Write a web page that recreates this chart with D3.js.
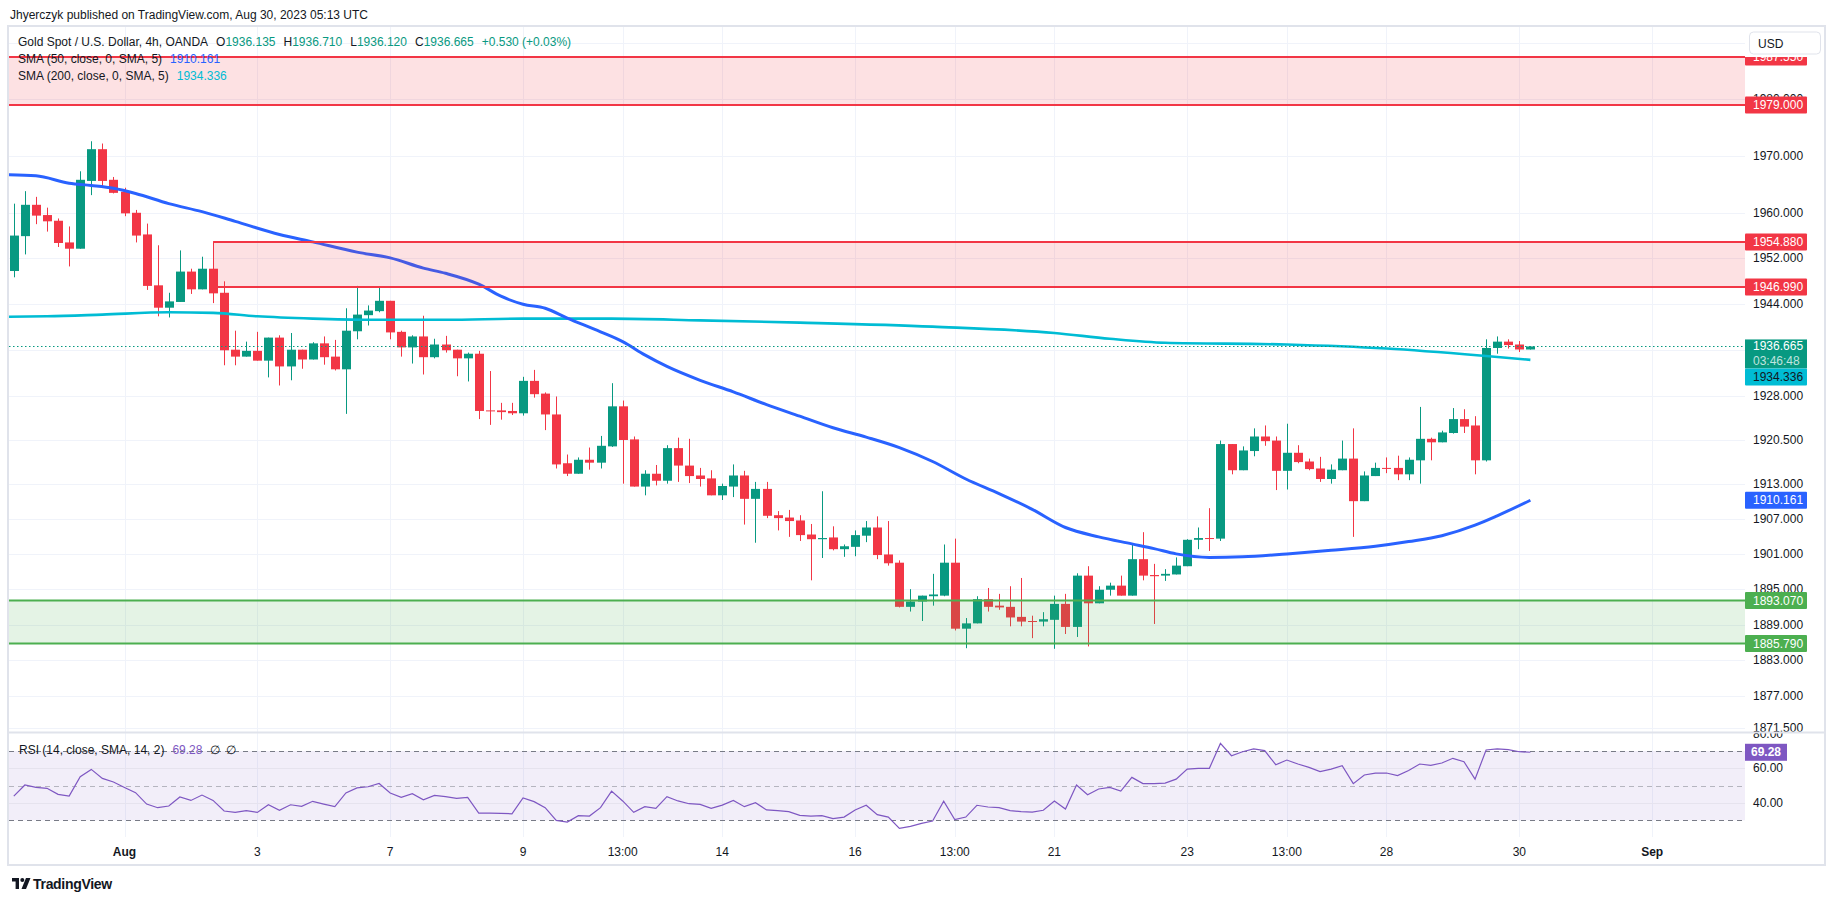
<!DOCTYPE html>
<html><head><meta charset="utf-8">
<script src="https://cdn.jsdelivr.net/npm/d3@7"></script>
<style>
html,body{margin:0;padding:0;background:#fff;}
svg{display:block;}
</style></head><body>
<svg id="chart" width="1835" height="901"></svg>
<script>
// ---------------- DATA ----------------
const opens = [1949.8,1955.9,1961.4,1959.6,1958.6,1954.8,1953.7,1965.6,1971.2,1965.8,
1963.7,1960.0,1956.2,1947.3,1943.4,1944.4,1949.7,1946.6,1950.2,1946.0,
1936.1,1934.9,1935.9,1934.2,1938.2,1933.2,1936.1,1934.4,1937.2,1934.9,
1932.7,1939.3,1942.1,1942.8,1944.6,1939.2,1936.5,1938.4,1934.8,1937.0,
1936.1,1934.6,1935.4,1925.6,1925.6,1925.5,1925.1,1930.7,1928.5,1924.9,
1916.5,1914.7,1917.1,1916.6,1919.4,1926.3,1920.6,1912.5,1914.7,1913.5,
1919.1,1916.1,1914.4,1913.9,1911.0,1912.5,1914.4,1910.4,1912.1,1907.6,
1907.2,1906.7,1904.3,1903.5,1903.8,1901.8,1902.2,1904.1,1905.5,1900.9,
1899.5,1892.0,1892.9,1893.8,1893.9,1899.5,1888.3,1889.2,1893.3,1892.2,
1892.0,1890.3,1889.6,1889.5,1889.8,1892.5,1888.6,1897.3,1892.6,1894.9,
1895.6,1893.9,1900.1,1897.4,1897.3,1897.5,1898.9,1903.4,1903.7,1903.6,
1919.8,1915.3,1918.6,1921.1,1920.4,1915.2,1918.3,1916.8,1915.6,1913.8,
1915.3,1917.3,1910.0,1914.3,1915.7,1915.7,1914.6,1917.0,1920.7,1920.1,
1921.7,1924.1,1923.0,1917.0,1936.4,1937.5,1937.0,1936.135];
const highs = [1961.6,1963.8,1962.8,1960.9,1959.0,1957.6,1967.3,1972.6,1972.2,1966.3,
1964.4,1960.5,1958.1,1954.3,1946.0,1953.4,1950.2,1952.3,1954.88,1948.0,
1939.4,1937.5,1939.2,1938.2,1938.6,1939.0,1936.1,1937.4,1938.4,1937.8,
1943.3,1947.2,1943.8,1947.0,1944.6,1939.4,1938.6,1942.0,1938.0,1938.5,
1936.1,1935.6,1935.9,1932.4,1926.9,1926.9,1931.4,1932.6,1928.7,1928.0,
1918.0,1917.5,1919.2,1921.2,1930.3,1927.3,1921.1,1915.3,1916.2,1919.6,
1920.9,1920.7,1915.7,1915.3,1913.0,1916.3,1915.2,1913.3,1913.3,1908.3,
1908.5,1907.6,1906.1,1911.7,1905.7,1902.6,1905.0,1906.6,1907.4,1906.6,
1899.9,1895.0,1893.9,1897.6,1902.6,1903.6,1890.1,1893.8,1895.2,1894.2,
1895.5,1896.9,1890.5,1891.1,1893.9,1894.2,1897.7,1898.9,1895.5,1896.1,
1897.3,1902.6,1904.7,1899.3,1898.4,1900.4,1903.5,1905.5,1908.8,1920.4,
1919.8,1919.4,1922.5,1923.0,1921.1,1923.3,1919.6,1917.3,1917.6,1916.3,
1920.4,1922.5,1915.1,1916.6,1917.5,1917.8,1917.5,1926.2,1920.9,1922.1,
1926.0,1925.8,1924.6,1937.9,1938.4,1937.9,1937.6,1936.71];
const lows = [1948.7,1952.7,1958.0,1956.7,1954.0,1950.6,1953.7,1963.1,1964.7,1963.4,
1959.4,1954.8,1946.5,1941.9,1941.7,1944.4,1945.8,1946.6,1944.2,1933.4,
1933.4,1934.9,1934.2,1931.3,1929.9,1930.8,1932.8,1934.4,1933.5,1932.5,
1925.0,1937.9,1940.3,1942.6,1937.9,1934.9,1933.7,1931.8,1934.6,1935.6,
1931.5,1930.6,1924.1,1923.1,1924.0,1924.8,1924.7,1927.8,1922.2,1915.6,
1914.3,1914.7,1915.4,1915.6,1919.3,1913.0,1912.5,1911.0,1912.7,1913.0,
1913.3,1913.1,1912.5,1911.0,1910.2,1910.7,1906.0,1902.9,1907.1,1905.0,
1903.9,1903.2,1896.5,1900.3,1901.6,1900.5,1900.6,1903.0,1900.1,1899.0,
1891.9,1891.2,1889.6,1892.2,1893.8,1888.0,1885.0,1889.2,1891.2,1891.5,
1888.7,1888.7,1886.7,1888.7,1884.9,1887.4,1886.9,1885.3,1892.6,1893.9,
1893.9,1893.9,1896.5,1889.1,1896.4,1897.5,1898.9,1901.8,1901.5,1903.2,
1914.6,1915.3,1917.7,1919.5,1911.9,1912.0,1916.5,1915.3,1913.3,1913.0,
1915.3,1903.9,1910.0,1914.3,1914.8,1913.6,1913.6,1913.0,1917.0,1920.1,
1921.6,1921.7,1914.6,1916.8,1935.4,1936.3,1935.7,1936.12];
const closes = [1956.0,1961.4,1959.5,1958.5,1954.7,1953.7,1965.8,1971.2,1965.6,1963.5,
1959.9,1956.0,1947.2,1943.4,1944.5,1949.7,1946.6,1950.2,1945.9,1936.0,
1934.9,1935.9,1934.2,1938.2,1933.2,1936.1,1934.4,1937.2,1934.8,1932.7,
1939.4,1942.2,1942.9,1944.6,1939.1,1936.5,1938.4,1934.8,1937.0,1936.0,
1934.6,1935.4,1925.5,1925.5,1925.3,1925.1,1930.7,1928.4,1924.9,1916.3,
1914.7,1917.1,1916.6,1919.5,1926.3,1920.5,1912.5,1914.7,1913.5,1919.1,
1916.1,1914.3,1913.8,1911.0,1912.6,1914.4,1910.4,1912.1,1907.5,1907.1,
1906.6,1904.2,1903.5,1903.7,1901.8,1902.3,1904.2,1905.5,1900.8,1899.4,
1892.0,1892.9,1893.9,1894.1,1899.5,1888.3,1889.2,1893.3,1892.0,1891.9,
1890.2,1889.5,1889.5,1889.9,1892.5,1888.6,1897.3,1892.6,1894.9,1895.6,
1893.9,1900.1,1897.3,1897.2,1897.6,1899.0,1903.4,1903.7,1903.6,1919.8,
1915.3,1918.7,1921.1,1920.3,1915.2,1918.3,1916.7,1915.5,1913.8,1915.4,
1917.3,1910.0,1914.4,1915.7,1915.6,1914.6,1917.1,1920.7,1920.1,1921.8,
1924.1,1922.8,1917.0,1936.4,1937.5,1936.9,1936.135,1936.665];

const sma50Idx = [0,3,6,8,10,12,15,18,21,25,28,32,35,38,40,43,45,47,49,51,54,56,58,60,63,66,69,72,75,78,81,84,87,90,93,96,99,102,104,106,109,112,116,120,124,127,130,133,135,138];
const sma50Val = [1966.7,1966.5,1965.2,1964.8,1964.3,1963.4,1961.6,1960.2,1958.5,1956.2,1954.9,1953.1,1952.1,1950.3,1949.4,1947.5,1945.4,1944.0,1943.3,1941.6,1939.2,1937.5,1935.2,1933.2,1930.8,1928.8,1926.6,1924.6,1922.6,1921.0,1919.2,1916.8,1913.8,1911.3,1908.6,1905.5,1903.9,1902.7,1901.9,1901.0,1900.4,1900.5,1901.0,1901.6,1902.3,1903.1,1904.1,1905.9,1907.5,1910.161];
const sma200Idx = [0,4,9,15,19,23,28,33,40,47,55,63,72,84,95,100,105,116,125,134,138];
const sma200Val = [1941.8,1941.9,1942.2,1942.6,1942.5,1941.9,1941.5,1941.3,1941.3,1941.5,1941.5,1941.2,1940.8,1940.1,1939.0,1938.0,1937.3,1937.0,1936.3,1935.0,1934.336];

const rsiVals = [44.0,50.4,49.0,48.5,45.0,44.0,55.2,59.4,54.2,52.1,49.0,46.0,39.4,37.3,38.3,43.5,41.5,44.6,41.5,35.4,
34.6,35.6,34.6,39.0,35.8,39.0,38.1,41.0,39.4,37.9,45.8,48.7,49.4,51.3,45.8,43.3,45.4,41.9,44.4,43.7,
42.7,43.3,34.2,34.2,34.0,33.8,42.9,40.8,37.3,30.0,29.0,32.7,32.5,37.3,46.9,41.2,34.6,37.9,36.9,43.7,
41.2,39.6,39.2,36.9,38.8,41.5,37.9,40.2,36.0,35.6,35.0,32.9,32.5,32.7,31.0,31.9,36.0,38.7,33.3,31.9,
25.4,26.5,28.3,29.6,41.0,30.4,31.9,38.7,37.7,37.3,35.6,35.0,34.8,35.8,41.2,36.5,50.4,44.8,48.1,49.0,
46.9,54.8,51.2,51.2,51.5,53.8,59.6,60.0,60.0,74.4,67.3,69.6,71.2,70.2,62.1,64.8,62.5,60.6,58.1,59.6,
61.5,51.2,56.2,57.3,57.3,55.8,58.8,62.5,61.7,63.1,65.8,63.8,53.8,70.6,71.2,70.8,69.6,69.28];

const timeLabels = ["Aug","3","7","9","13:00","14","16","13:00","21","23","13:00","28","30","Sep"];
const timeIdx = [11,23,35,47,56,65,77,86,95,107,116,125,137,149];
const monthLabels = ["Aug","Sep"];

const priceTicks = [1990,1980,1970,1960,1952,1944,1936,1928,1920.5,1913,1907,1901,1895,1889,1883,1877,1871.5];
const rsiTicks = [80,60,40];
const rsiLevels = [70,50,30];

const zoneTop = [1979.000, 1987.550];
const zoneMid = [1946.990, 1954.880];
const zoneMidStart = 19;
const zoneLow = [1885.790, 1893.070];

const lastPrice = 1936.665, lastCountdown = "03:46:48";
const sma50Last = 1910.161, sma200Last = 1934.336, rsiLast = 69.28;

const headerTitle = "Jhyerczyk published on TradingView.com, Aug 30, 2023 05:13 UTC";
const symbolTitle = "Gold Spot / U.S. Dollar, 4h, OANDA";
const ohlcLabels = ["O","H","L","C"];
const ohlcValues = ["1936.135","1936.710","1936.120","1936.665"];
const changeText = "+0.530 (+0.03%)";
const sma50Title = "SMA (50, close, 0, SMA, 5)";
const sma200Title = "SMA (200, close, 0, SMA, 5)";
const rsiTitle = "RSI (14, close, SMA, 14, 2)";

// ---------------- LAYOUT ----------------
const FONT = '"Liberation Sans", Arial, sans-serif';
const L = 9, R = 1745, T = 27, B = 732, RT = 733, RB = 837, AXR = 1825;
const GREEN = "#089981", RED = "#f23645", TXT = "#131722", GRID = "#f0f3fa";
const BLUE = "#2962ff", CYAN = "#00bcd4", PURPLE = "#7e57c2", ZRED = "#f23645", ZGREEN = "#4caf50";
const AX_TOP_COVER = 57; // white area around the currency button

const svg = d3.select("#chart").style("font-family", FONT);
const x = d3.scaleLinear().domain([1, 138]).range([13.8, 13.8 + 137 * 11.07]);
const y = d3.scaleLog().domain([1870.9, 1992.9]).range([B, T]);
const yr = d3.scaleLinear().domain([20.4, 80.4]).range([RB, RT]);
const fmt3 = d3.format(".3f"), fmt2 = d3.format(".2f");
const crisp = v => Math.round(v) + 0.5;

const defs = svg.append("defs");
defs.append("clipPath").attr("id", "cpMain").append("rect").attr("x", L).attr("y", T).attr("width", R - L).attr("height", B - T);
defs.append("clipPath").attr("id", "cpRsi").append("rect").attr("x", L).attr("y", RT).attr("width", R - L).attr("height", RB - RT);
defs.append("clipPath").attr("id", "cpRsiAx").append("rect").attr("x", R).attr("y", RT).attr("width", AXR - R).attr("height", RB - RT);
defs.append("clipPath").attr("id", "cpPriceAx").append("rect").attr("x", R).attr("y", AX_TOP_COVER).attr("width", AXR - R).attr("height", B - AX_TOP_COVER + 1);

// vertical grid
const vg = svg.append("g");
timeIdx.forEach(i => {
  const xx = crisp(x(i));
  if (xx < R) vg.append("line").attr("x1", xx).attr("x2", xx).attr("y1", T).attr("y2", RB).attr("stroke", GRID).attr("stroke-width", 1);
});
// horizontal grid main
const main = svg.append("g").attr("clip-path", "url(#cpMain)");
priceTicks.forEach(v => {
  main.append("line").attr("x1", L).attr("x2", R).attr("y1", crisp(y(v))).attr("y2", crisp(y(v))).attr("stroke", GRID);
});

// candles
const candles = main.append("g");
opens.forEach((o, k) => {
  const i = k + 1, c = closes[k], h = highs[k], l = lows[k];
  const col = c >= o ? GREEN : RED;
  const cx = Math.round(x(i));
  candles.append("line").attr("x1", cx + 0.5).attr("x2", cx + 0.5).attr("y1", y(h)).attr("y2", y(l)).attr("stroke", col).attr("stroke-width", 1);
  const yt = y(Math.max(o, c)), yb = y(Math.min(o, c));
  candles.append("rect").attr("x", cx - 4).attr("width", 9).attr("y", yt).attr("height", Math.max(1, yb - yt)).attr("fill", col);
});

// SMA lines
const lineGen = d3.line().x(d => x(d[0])).y(d => y(d[1])).curve(d3.curveMonotoneX);
main.append("path").datum(sma200Idx.map((i, k) => [i, sma200Val[k]])).attr("d", lineGen)
  .attr("fill", "none").attr("stroke", CYAN).attr("stroke-width", 2.6);
main.append("path").datum(sma50Idx.map((i, k) => [i, sma50Val[k]])).attr("d", lineGen)
  .attr("fill", "none").attr("stroke", BLUE).attr("stroke-width", 3);

// zones
function zone(lo, hi, xStart, lineCol, fillCol) {
  main.append("rect").attr("x", xStart).attr("width", R - xStart).attr("y", y(hi)).attr("height", y(lo) - y(hi)).attr("fill", fillCol);
  [lo, hi].forEach(v => main.append("line").attr("x1", xStart).attr("x2", R).attr("y1", y(v)).attr("y2", y(v)).attr("stroke", lineCol).attr("stroke-width", 2));
}
zone(zoneTop[0], zoneTop[1], L, ZRED, "rgba(242,54,69,0.15)");
zone(zoneMid[0], zoneMid[1], x(zoneMidStart), ZRED, "rgba(242,54,69,0.15)");
zone(zoneLow[0], zoneLow[1], L, ZGREEN, "rgba(76,175,80,0.15)");

// last price dotted line
main.append("line").attr("x1", L).attr("x2", R).attr("y1", crisp(y(lastPrice))).attr("y2", crisp(y(lastPrice)))
  .attr("stroke", GREEN).attr("stroke-dasharray", "1.5,2.5").attr("stroke-width", 1);

// ---------------- RSI PANE ----------------
const rsiG = svg.append("g").attr("clip-path", "url(#cpRsi)");
rsiG.append("rect").attr("x", L).attr("width", R - L).attr("y", yr(70)).attr("height", yr(30) - yr(70)).attr("fill", "rgba(126,87,194,0.1)");
[60, 40].forEach(v => rsiG.append("line").attr("x1", L).attr("x2", R).attr("y1", crisp(yr(v))).attr("y2", crisp(yr(v))).attr("stroke", "#e6e3ee"));
rsiLevels.forEach(v => rsiG.append("line").attr("x1", L).attr("x2", R).attr("y1", crisp(yr(v))).attr("y2", crisp(yr(v)))
  .attr("stroke", "#787b86").attr("stroke-opacity", v === 50 ? 0.5 : 1).attr("stroke-dasharray", "5,4"));
rsiG.append("path").datum(rsiVals.map((v, k) => [k + 1, v]))
  .attr("d", d3.line().x(d => x(d[0])).y(d => yr(d[1])))
  .attr("fill", "none").attr("stroke", PURPLE).attr("stroke-width", 1.2);

// RSI legend
const rl = svg.append("text").attr("x", 19).attr("y", 750).attr("dominant-baseline", "central").attr("font-size", 12).attr("fill", TXT);
rl.append("tspan").text(rsiTitle);
rl.append("tspan").attr("dx", 8).attr("fill", PURPLE).text(fmt2(rsiLast));
rl.append("tspan").attr("dx", 8).text("∅");
rl.append("tspan").attr("dx", 6).text("∅");

// RSI axis
const rax = svg.append("g").attr("clip-path", "url(#cpRsiAx)");
rsiTicks.forEach(v => rax.append("text").attr("x", 1753).attr("y", yr(v)).attr("dominant-baseline", "central")
  .attr("font-size", 12).attr("fill", TXT).text(fmt2(v)));
rax.append("rect").attr("x", R).attr("y", yr(rsiLast) - 8.5).attr("width", 42).attr("height", 17).attr("fill", PURPLE);
rax.append("text").attr("x", 1751).attr("y", yr(rsiLast)).attr("dominant-baseline", "central").attr("font-size", 12)
  .attr("fill", "#fff").attr("font-weight", 600).text(fmt2(rsiLast));

// ---------------- PRICE AXIS ----------------
const pax = svg.append("g").attr("clip-path", "url(#cpPriceAx)");
const lpY = y(lastPrice);
const lpTop = lpY - 7, lpBottom = lpY + 22;
priceTicks.forEach(v => {
  const ty = y(v);
  if (ty > lpTop + 3 && ty < lpBottom - 3) return; // fully covered by last-price label
  pax.append("text").attr("x", 1753).attr("y", ty).attr("dominant-baseline", "central")
    .attr("font-size", 12).attr("fill", TXT).text(fmt3(v));
});

function box(v, fill, txtCol, yc) {
  const cy = yc === undefined ? y(v) : yc;
  pax.append("rect").attr("x", R).attr("y", cy - 8.5).attr("width", 62).attr("height", 17).attr("fill", fill).attr("rx", 1);
  pax.append("text").attr("x", 1753).attr("y", cy).attr("dominant-baseline", "central").attr("font-size", 12)
    .attr("fill", txtCol).text(fmt3(v));
  return cy + 8.5;
}
box(zoneTop[1], ZRED, "#fff");
box(zoneTop[0], ZRED, "#fff");
box(zoneMid[1], ZRED, "#fff");
box(zoneMid[0], ZRED, "#fff");
// last price (two lines)
pax.append("rect").attr("x", R).attr("y", lpTop).attr("width", 62).attr("height", lpBottom - lpTop).attr("fill", GREEN);
pax.append("text").attr("x", 1753).attr("y", lpY).attr("dominant-baseline", "central").attr("font-size", 12).attr("fill", "#fff").text(fmt3(lastPrice));
pax.append("text").attr("x", 1753).attr("y", lpY + 14.5).attr("dominant-baseline", "central").attr("font-size", 12).attr("fill", "rgba(255,255,255,0.75)").text(lastCountdown);
box(sma200Last, CYAN, TXT, Math.max(y(sma200Last), lpBottom + 8.5));
box(sma50Last, BLUE, "#fff");
box(zoneLow[1], ZGREEN, "#fff");
box(zoneLow[0], ZGREEN, "#fff");

// USD box
svg.append("rect").attr("x", 1749.5).attr("y", 32).attr("width", 71).attr("height", 22).attr("rx", 4).attr("fill", "#fff").attr("stroke", "#e0e3eb");
svg.append("text").attr("x", 1758).attr("y", 43.5).attr("dominant-baseline", "central").attr("font-size", 12).attr("fill", TXT).text("USD");

// ---------------- TIME AXIS ----------------
timeIdx.forEach((i, k) => {
  if (x(i) < R) svg.append("text").attr("x", x(i)).attr("y", 852).attr("text-anchor", "middle").attr("dominant-baseline", "central")
    .attr("font-size", 12).attr("fill", TXT).attr("font-weight", monthLabels.includes(timeLabels[k]) ? 700 : 400).text(timeLabels[k]);
});

// pane separator and frame
svg.append("line").attr("x1", L - 1).attr("x2", AXR).attr("y1", 732.5).attr("y2", 732.5).attr("stroke", "#e0e3eb").attr("stroke-width", 2);
svg.append("rect").attr("x", 8).attr("y", 26).attr("width", AXR - 8).attr("height", 865 - 26).attr("fill", "none").attr("stroke", "#e0e3eb").attr("stroke-width", 2);

// ---------------- HEADER ----------------
svg.append("text").attr("x", 10).attr("y", 15).attr("dominant-baseline", "central").attr("font-size", 12).attr("fill", TXT).text(headerTitle);
const h1 = svg.append("text").attr("x", 18).attr("y", 41.5).attr("dominant-baseline", "central").attr("font-size", 12).attr("fill", TXT);
h1.append("tspan").text(symbolTitle);
ohlcLabels.forEach((lab, k) => {
  h1.append("tspan").attr("dx", 8).text(lab);
  h1.append("tspan").attr("fill", GREEN).text(ohlcValues[k]);
});
h1.append("tspan").attr("dx", 8).attr("fill", GREEN).text(changeText);
const h2 = svg.append("text").attr("x", 18).attr("y", 58.5).attr("dominant-baseline", "central").attr("font-size", 12).attr("fill", TXT);
h2.append("tspan").text(sma50Title);
h2.append("tspan").attr("dx", 8).attr("fill", BLUE).text(fmt3(sma50Last));
const h3 = svg.append("text").attr("x", 18).attr("y", 76).attr("dominant-baseline", "central").attr("font-size", 12).attr("fill", TXT);
h3.append("tspan").text(sma200Title);
h3.append("tspan").attr("dx", 8).attr("fill", CYAN).text(fmt3(sma200Last));

// ---------------- LOGO ----------------
const logo = svg.append("g").attr("transform", "translate(12,878)").attr("fill", TXT);
logo.append("path").attr("d", "M0,0 H7 V11 H3.6 V3.4 H0 Z");
logo.append("circle").attr("cx", 10.3).attr("cy", 2).attr("r", 2);
logo.append("path").attr("d", "M14,0 H18.5 L14,11 H9.5 Z");
svg.append("text").attr("x", 33).attr("y", 884).attr("dominant-baseline", "central").attr("font-size", 14).attr("font-weight", 600)
  .attr("fill", TXT).attr("letter-spacing", -0.3).text("TradingView");
</script>
</body></html>
